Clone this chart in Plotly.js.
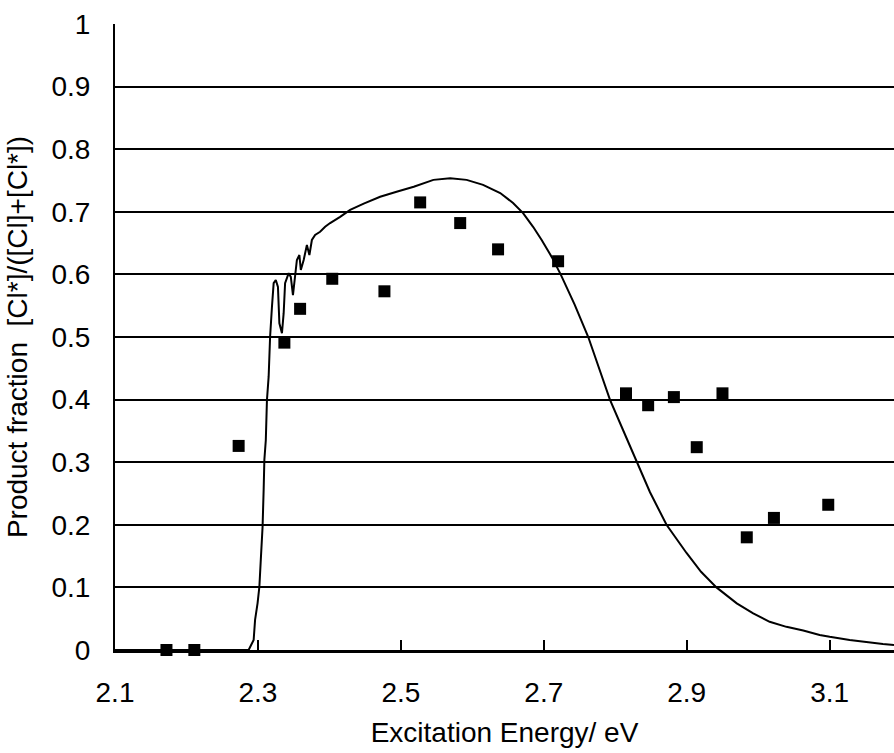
<!DOCTYPE html>
<html>
<head>
<meta charset="utf-8">
<script src="https://cdn.plot.ly/plotly-3.0.1.min.js"></script>
<style>
  html, body { margin: 0; padding: 0; background: #fff; }
  #chart { width: 894px; height: 753px; }
</style>
</head>
<body>
<div id="chart"></div>
<script>
// Calculated product fraction vs. excitation energy (solid curve)
const curveEnergy = [2.10, 2.20, 2.287, 2.294, 2.296, 2.2995, 2.302, 2.304, 2.3065, 2.308, 2.309, 2.311,
  2.3126, 2.315, 2.317, 2.3196, 2.322, 2.325, 2.328, 2.330, 2.3336, 2.336, 2.338, 2.343, 2.346, 2.349,
  2.352, 2.3545, 2.358, 2.360, 2.364, 2.3685, 2.372, 2.3755, 2.380, 2.387, 2.394, 2.401, 2.415, 2.429,
  2.448, 2.471, 2.494, 2.518, 2.5455, 2.569, 2.592, 2.615, 2.639, 2.657, 2.671, 2.685, 2.697, 2.711,
  2.7236, 2.743, 2.7622, 2.7786, 2.7925, 2.811, 2.8298, 2.8486, 2.8717, 2.8997, 2.920, 2.9416,
  2.970, 2.993, 3.016, 3.0395, 3.063, 3.086, 3.100, 3.128, 3.1745, 3.19];
const curveFraction = [0, 0, 0, 0.016, 0.048, 0.075, 0.101, 0.144, 0.197, 0.256, 0.304, 0.335,
  0.399, 0.437, 0.500, 0.548, 0.586, 0.591, 0.580, 0.522, 0.506, 0.538, 0.586, 0.602, 0.596, 0.567,
  0.596, 0.623, 0.631, 0.607, 0.623, 0.647, 0.631, 0.655, 0.663, 0.668, 0.676, 0.682, 0.692, 0.703,
  0.713, 0.724, 0.732, 0.740, 0.751, 0.7535, 0.751, 0.743, 0.730, 0.714, 0.698, 0.676, 0.655, 0.628,
  0.600, 0.552, 0.500, 0.447, 0.400, 0.351, 0.300, 0.252, 0.200, 0.155, 0.125, 0.100,
  0.0745, 0.0586, 0.045, 0.037, 0.031, 0.024, 0.021, 0.016, 0.0096, 0.008];

// Measured product fractions (filled squares)
const measEnergy = [2.172, 2.211, 2.273, 2.337, 2.359, 2.404, 2.477, 2.527, 2.583, 2.636, 2.720,
  2.815, 2.846, 2.882, 2.914, 2.950, 2.984, 3.022, 3.098];
const measFraction = [0.0, 0.0, 0.326, 0.491, 0.545, 0.593, 0.573, 0.715, 0.682, 0.640, 0.621,
  0.410, 0.391, 0.404, 0.324, 0.410, 0.180, 0.211, 0.232];

const xTicks = [2.1, 2.3, 2.5, 2.7, 2.9, 3.1];
const xTickText = ['2.1', '2.3', '2.5', '2.7', '2.9', '3.1'];

const FONT = 'Liberation Sans, Arial, sans-serif';
const FS = 28;

const traces = [
  {
    x: curveEnergy, y: curveFraction,
    type: 'scatter', mode: 'lines',
    line: { color: '#000', width: 2 },
    cliponaxis: false,
    hoverinfo: 'x+y'
  },
  {
    x: measEnergy, y: measFraction,
    type: 'scatter', mode: 'markers',
    marker: { symbol: 'square', size: 12, color: '#000' },
    cliponaxis: false,
    hoverinfo: 'x+y'
  }
];

const layout = {
  width: 894, height: 753,
  margin: { l: 115, r: 0, t: 24, b: 103 },
  paper_bgcolor: '#fff', plot_bgcolor: '#fff',
  showlegend: false,
  font: { family: FONT, size: FS, color: '#000' },
  xaxis: {
    range: [2.1, 3.19],
    tickvals: xTicks, ticktext: xTickText,
    ticks: 'inside', ticklen: 10, tickwidth: 2, tickcolor: '#000',
    ticklabelstandoff: 16,
    showline: true, linecolor: '#000', linewidth: 2.5,
    showgrid: false, zeroline: false,
    tickfont: { family: FONT, size: FS, color: '#000' },
    title: { text: 'Excitation Energy/ eV', font: { family: FONT, size: FS, color: '#000' }, standoff: 16 }
  },
  yaxis: {
    range: [0, 1], dtick: 0.1, tick0: 0,
    ticks: '', ticklabelstandoff: 17,
    showline: true, linecolor: '#000', linewidth: 2,
    showgrid: true, gridcolor: '#000', gridwidth: 2,
    zeroline: false,
    tickfont: { family: FONT, size: FS, color: '#000' },
    title: { text: 'Product fraction&nbsp; [Cl*]/([Cl]+[Cl*])', font: { family: FONT, size: FS, color: '#000' }, standoff: 16 }
  }
};

Plotly.newPlot('chart', traces, layout, { displayModeBar: false, staticPlot: true });
</script>
</body>
</html>
